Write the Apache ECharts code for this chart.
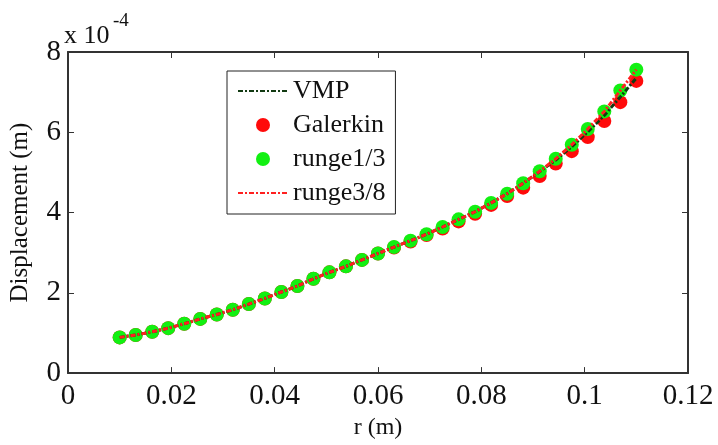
<!DOCTYPE html>
<html>
<head>
<meta charset="utf-8">
<script src="https://cdn.jsdelivr.net/npm/echarts@6/dist/echarts.min.js"></script>
<style>html,body{margin:0;padding:0;background:#fff;}#c{width:718px;height:445px;}</style>
</head>
<body>
<div id="c"></div>
<script>
// radius r (m)
var rValues = [0.0100,0.0131,0.0163,0.0194,0.0225,0.0256,0.0288,0.0319,0.0350,0.0381,0.0413,0.0444,0.0475,0.0506,0.0538,0.0569,0.0600,0.0631,0.0663,0.0694,0.0725,0.0756,0.0788,0.0819,0.0850,0.0881,0.0913,0.0944,0.0975,0.1006,0.1038,0.1069,0.1100];
// displacement in units of 1e-4 m
var vmp      = [0.89,0.95,1.03,1.12,1.23,1.35,1.46,1.58,1.72,1.86,2.02,2.17,2.35,2.51,2.66,2.82,2.98,3.14,3.30,3.46,3.64,3.83,4.02,4.24,4.47,4.73,5.02,5.31,5.64,6.01,6.42,6.88,7.35];
var galerkin = [0.89,0.95,1.03,1.12,1.23,1.35,1.46,1.58,1.72,1.86,2.02,2.17,2.35,2.51,2.66,2.82,2.98,3.13,3.28,3.44,3.60,3.78,3.97,4.19,4.41,4.62,4.91,5.22,5.53,5.88,6.28,6.75,7.28];
var runge13  = [0.89,0.95,1.03,1.12,1.23,1.35,1.46,1.58,1.72,1.86,2.02,2.17,2.35,2.51,2.66,2.82,2.98,3.14,3.30,3.46,3.64,3.83,4.02,4.24,4.47,4.73,5.03,5.34,5.69,6.08,6.52,7.04,7.56];
var runge38  = [0.89,0.95,1.03,1.12,1.23,1.35,1.46,1.58,1.72,1.86,2.02,2.17,2.35,2.51,2.66,2.82,2.98,3.14,3.30,3.46,3.64,3.83,4.02,4.24,4.47,4.73,5.03,5.34,5.69,6.08,6.52,7.04,7.56];
var seriesNames = ['VMP','Galerkin','runge1/3','runge3/8'];
var xTicks = [0, 0.02, 0.04, 0.06, 0.08, 0.1, 0.12];
var yTicks = [0, 2, 4, 6, 8];

function pairs(v){ return rValues.map(function(r,i){ return [r, v[i]]; }); }
var FONT = 'Liberation Serif';
var axisColor = '#333';
var hiddenSym = {color: 'rgba(0,0,0,0)', borderWidth: 0, opacity: 0};

var chart = echarts.init(document.getElementById('c'), null, {renderer:'canvas'});
var option = {
  backgroundColor: '#fff',
  animation: false,
  grid: {left: 65, right: 30, top: 52, bottom: 62, show: false},
  xAxis: [{
    type: 'value', min: 0, max: 0.12, interval: 0.02, position: 'bottom',
    name: 'r (m)', nameLocation: 'middle', nameGap: 41,
    nameTextStyle: {fontFamily: FONT, fontSize: 24, color: '#111'},
    axisLine: {show: true, onZero: false, lineStyle: {color: axisColor, width: 2}},
    axisTick: {show: true, inside: true, length: 6, lineStyle: {color: axisColor, width: 1}},
    axisLabel: {fontFamily: FONT, fontSize: 29, color: '#111', margin: 9,
      formatter: function(v){ return String(+v.toFixed(2)); }},
    splitLine: {show: false}
  },{
    type: 'value', min: 0, max: 0.12, interval: 0.02, position: 'top',
    axisLine: {show: true, onZero: false, lineStyle: {color: axisColor, width: 2}},
    axisTick: {show: true, inside: true, length: 6, lineStyle: {color: axisColor, width: 1}},
    axisLabel: {show: false}, splitLine: {show: false}
  }],
  yAxis: [{
    type: 'value', min: 0, max: 8, interval: 2, position: 'left',
    name: 'Displacement (m)', nameLocation: 'middle', nameGap: 35,
    nameTextStyle: {fontFamily: FONT, fontSize: 25, color: '#111'},
    axisLine: {show: true, onZero: false, lineStyle: {color: axisColor, width: 2}},
    axisTick: {show: true, inside: true, length: 6, lineStyle: {color: axisColor, width: 1}},
    axisLabel: {fontFamily: FONT, fontSize: 29, color: '#111', margin: 7},
    splitLine: {show: false}
  },{
    type: 'value', min: 0, max: 8, interval: 2, position: 'right',
    axisLine: {show: true, onZero: false, lineStyle: {color: axisColor, width: 2}},
    axisTick: {show: true, inside: true, length: 6, lineStyle: {color: axisColor, width: 1}},
    axisLabel: {show: false}, splitLine: {show: false}
  }],
  legend: {
    orient: 'vertical', left: 227, top: 71,
    padding: [7, 10, 8, 10], itemGap: 8, itemWidth: 50, itemHeight: 14,
    backgroundColor: '#fff', borderColor: '#222', borderWidth: 1, borderRadius: 0,
    textStyle: {fontFamily: FONT, fontSize: 26, color: '#111', lineHeight: 24},
    data: [
      {name: seriesNames[0], itemStyle: hiddenSym},
      {name: seriesNames[1]},
      {name: seriesNames[2]},
      {name: seriesNames[3], itemStyle: hiddenSym}
    ]
  },
  graphic: [
    {type: 'text', left: 64, top: 23, style: {text: 'x 10', font: '26px "Liberation Serif"', fill: '#111'}},
    {type: 'text', left: 113, top: 12, style: {text: '-4', font: '19px "Liberation Serif"', fill: '#111'}}
  ],
  series: [
    {name: seriesNames[1], type: 'scatter', data: pairs(galerkin), symbol: 'circle', symbolSize: 14,
     itemStyle: {color: '#ff0a0a', opacity: 1}, z: 2},
    {name: seriesNames[2], type: 'scatter', data: pairs(runge13), symbol: 'circle', symbolSize: 14,
     itemStyle: {color: '#12f012', opacity: 1}, z: 3},
    {name: seriesNames[0], type: 'line', data: pairs(vmp), symbol: 'none', smooth: false,
     lineStyle: {color: '#123a12', width: 3, type: [5, 2, 2, 2]}, itemStyle: {color: '#123a12'}, z: 4},
    {name: seriesNames[3], type: 'line', data: pairs(runge38), symbol: 'none', smooth: false,
     lineStyle: {color: '#ff2020', width: 3, type: [5, 2, 2, 2]}, itemStyle: {color: '#ff2020'}, z: 5}
  ]
};
chart.setOption(option);
</script>
</body>
</html>
